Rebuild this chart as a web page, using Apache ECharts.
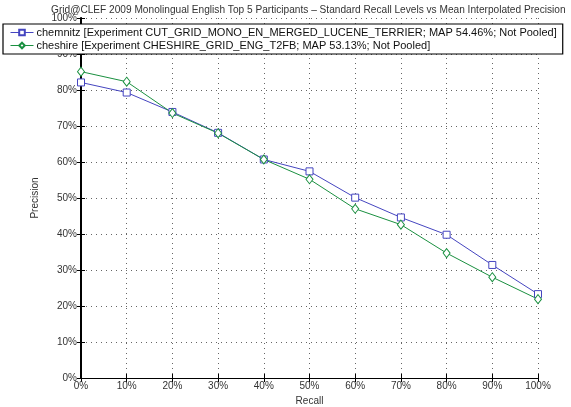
<!DOCTYPE html>
<html><head><meta charset="utf-8">
<script src="https://cdn.jsdelivr.net/npm/echarts@6/dist/echarts.min.js"></script>
<style>html,body{margin:0;padding:0;background:#fff}#c{width:571px;height:407px}</style>
</head><body><div id="c"></div>
<script>
const recallLevels = [0,10,20,30,40,50,60,70,80,90,100];
const chemnitz = [82.1,79.3,73.9,68.1,60.7,57.4,50.1,44.6,39.8,31.4,23.3];
const cheshire = [85.1,82.3,73.6,68.0,60.7,55.2,47.0,42.6,34.7,28.0,21.9];
const seriesNames = [
  'chemnitz [Experiment CUT_GRID_MONO_EN_MERGED_LUCENE_TERRIER; MAP 54.46%; Not Pooled]',
  'cheshire [Experiment CHESHIRE_GRID_ENG_T2FB; MAP 53.13%; Not Pooled]'
];
const titleText = 'Grid@CLEF 2009 Monolingual English Top 5 Participants \u2013 Standard Recall Levels vs Mean Interpolated Precision';

const font = 'Liberation Sans, Arial, Helvetica, sans-serif';
const chart = echarts.init(document.getElementById('c'), null, {renderer:'canvas'});
const pairs = a => recallLevels.map((r,i)=>[r,a[i]]);
const frameAxis = {
  min:0,max:100,interval:10,
  axisLine:{show:true,lineStyle:{color:'#000',width:1}},
  axisTick:{show:true,inside:true,length:4,lineStyle:{color:'#000'}},
  axisLabel:{show:false},
  splitLine:{show:false}
};
chart.setOption({
  animation:false,
  backgroundColor:'#fff',
  title:{text:titleText,left:46,top:0,textStyle:{fontFamily:font,fontSize:10.15,fontWeight:'normal',color:'#333'}},
  legend:{
    orient:'vertical',left:3,top:24,width:559,
    padding:[3,6,3,7],itemGap:2,itemWidth:23,itemHeight:7,
    backgroundColor:'#fff',borderColor:'#000',borderWidth:1.2,
    lineStyle:{width:1},
    textStyle:{fontFamily:font,fontSize:11,color:'#111',padding:[0,0,0,-2]},
    data:seriesNames
  },
  grid:{left:81,right:33,top:18,bottom:29,outerBoundsMode:'none',containLabel:false},
  xAxis:[{
    type:'value',min:0,max:100,interval:10,
    name:'Recall',nameLocation:'middle',nameGap:11,
    nameTextStyle:{fontFamily:font,fontSize:10,color:'#333'},
    axisLine:{show:true,lineStyle:{color:'#000',width:1}},
    axisTick:{show:true,inside:true,length:4,lineStyle:{color:'#000'}},
    axisLabel:{formatter:'{value}%',fontFamily:font,fontSize:10,color:'#333',margin:3},
    splitLine:{show:true,lineStyle:{color:'#666',type:[1,4],width:1}}
  },Object.assign({type:'value',position:'top'},frameAxis)],
  yAxis:[{
    type:'value',min:0,max:100,interval:10,
    name:'Precision',nameLocation:'middle',nameGap:32,
    nameTextStyle:{fontFamily:font,fontSize:10,color:'#333'},
    axisLine:{show:true,lineStyle:{color:'#000',width:2}},
    axisTick:{show:true,inside:true,length:4,lineStyle:{color:'#000'}},
    axisLabel:{formatter:'{value}%',fontFamily:font,fontSize:10,color:'#333',margin:4},
    splitLine:{show:true,lineStyle:{color:'#666',type:[1,4],width:1}}
  },Object.assign({type:'value',position:'right'},frameAxis)],
  series:[
    {name:seriesNames[0],type:'line',data:pairs(chemnitz),color:'#4545c0',
     symbol:'rect',symbolSize:7,showSymbol:true,
     lineStyle:{width:1,color:'#4545c0'},itemStyle:{color:'#fff',borderColor:'#4545c0',borderWidth:1}},
    {name:seriesNames[1],type:'line',data:pairs(cheshire),color:'#1a9040',
     symbol:'diamond',symbolSize:[7,9],showSymbol:true,
     lineStyle:{width:1,color:'#1a9040'},itemStyle:{color:'#fff',borderColor:'#1a9040',borderWidth:1}}
  ]
});
</script></body></html>
